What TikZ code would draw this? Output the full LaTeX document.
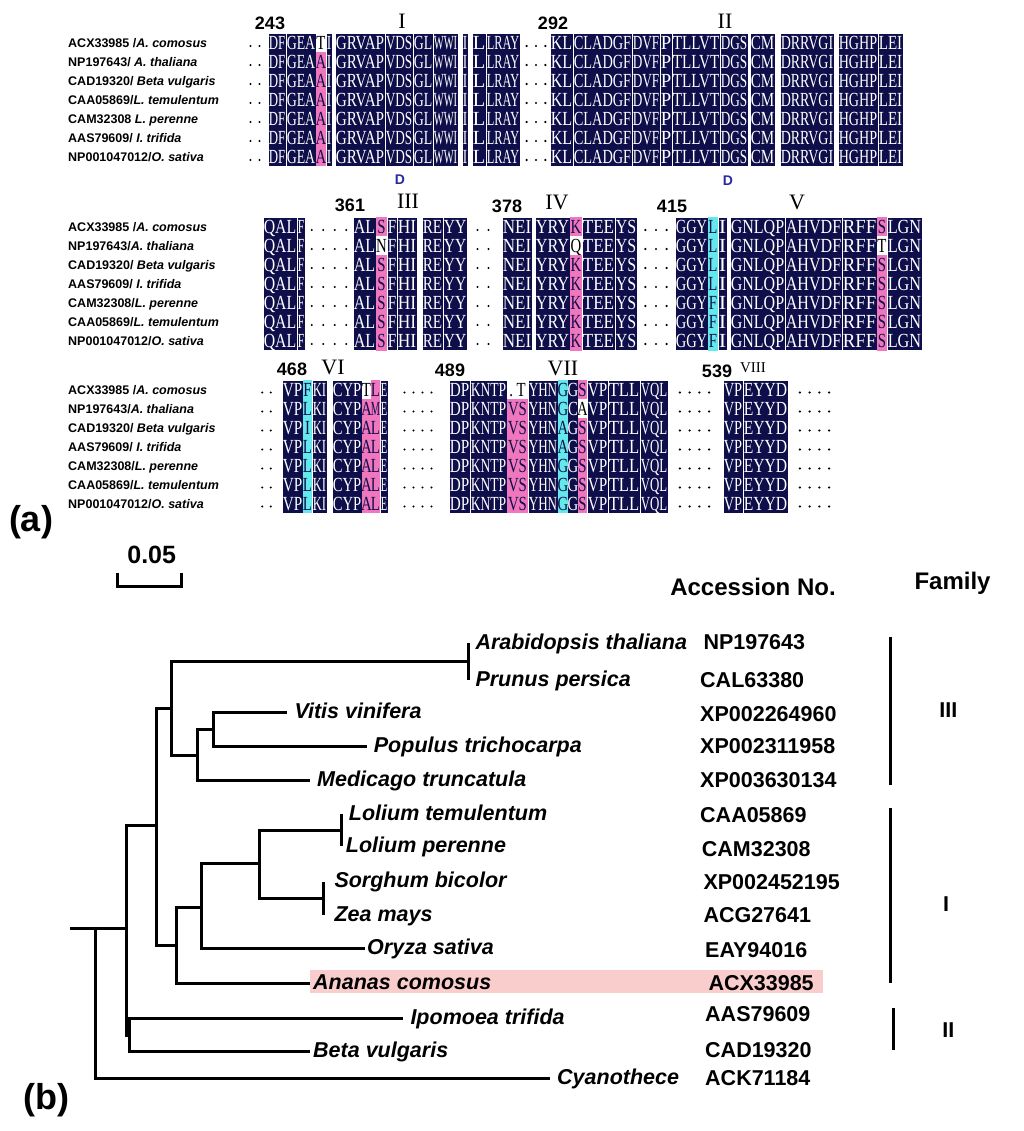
\documentclass[tikz,border=0pt]{standalone}
\usepackage{fontspec}
\setmainfont{Liberation Sans}
\newfontfamily\seqfont{Liberation Serif}
\usepackage{graphicx}

\definecolor{navy}{RGB}{14,14,74}
\definecolor{hpink}{RGB}{240,118,190}
\definecolor{hcyan}{RGB}{100,232,236}
\definecolor{dblue}{RGB}{40,40,160}
\definecolor{anahl}{RGB}{250,205,205}

\tikzset{
  seq/.style={font=\seqfont\fontsize{20}{21}\selectfont, inner sep=0, anchor=base},
  taxon/.style={font=\fontsize{12.5}{14}\selectfont\bfseries, anchor=base west, inner sep=0},
  resnum/.style={font=\fontsize{18}{20}\selectfont\bfseries, inner sep=0},
  motif/.style={font=\seqfont\fontsize{22}{24}\selectfont, inner sep=0},
  leaf/.style={font=\fontsize{21.5}{24}\selectfont\bfseries\itshape, anchor=west,
    inner xsep=7pt, inner ysep=0, text height=12.4pt, text depth=0pt},
  acc/.style={font=\fontsize{21.5}{24}\selectfont\bfseries, anchor=west,
    inner sep=0, text height=15.4pt, text depth=0pt},
  head/.style={font=\fontsize{24}{26}\selectfont\bfseries, inner sep=0},
  branch/.style={line width=3pt},
}

% conserved segment on all seven rows: first row y, x from, x to, residues
\newcommand\conseg[4]{%
  \filldraw[fill=navy, draw=white, line width=0.7pt] ({#2},{#1-9.5}) rectangle ({#3},{#1+123.5});
  \pgfmathsetmacro\segw{#3-#2-1.6}%
  \foreach \rw in {0,...,6}
    \node[seq, text=white] at ({(#2+#3)/2},{#1+\rw*19+6.8}) {\resizebox{\segw pt}{\height}{#4}};
}
% one column, row by row: first row y, x from, x to, list of fill/text/residue
\newcommand\rescol[4]{%
  \foreach \bg/\fg/\res [count=\rw from 0] in {#4} {
    \fill[\bg] ({#2},{#1+\rw*19-9.5}) rectangle ({#3},{#1+\rw*19+9.5});
    \node[seq, text=\fg] at ({(#2+#3)/2},{#1+\rw*19+6.8}) {\scalebox{0.74}[1]{\res}};
  }}
% dotted gap: first row y, x from, x to, number of dots
\newcommand\dotgap[4]{%
  \foreach \rw in {0,...,6}
    \foreach \dt in {1,...,#4}
      \fill ({#2+(\dt-0.5)*(#3-#2)/#4},{#1+\rw*19+3}) circle (1.2pt);
}

\begin{document}
\begin{tikzpicture}[x=1pt, y=-1pt]
\useasboundingbox (0,0) rectangle (1024,1131);

% (a) alignment, block 1
\foreach \t [count=\rw from 0] in {ACX33985 /\textit{A. comosus}, NP197643/ \textit{A. thaliana},
    CAD19320/ \textit{Beta vulgaris}, CAA05869/\textit{L. temulentum}, CAM32308 \textit{L. perenne},
    AAS79609/ \textit{I. trifida}, NP001047012/\textit{O. sativa}}
  \node[taxon] (sa\rw) at (68,{43+\rw*19+4.5}) {\t};
\dotgap{43}{246}{264}{2}
\conseg{43}{268}{286}{DF}
\conseg{43}{286}{316}{GEA}
\rescol{43}{316}{326}{white/black/T, hpink/navy/A, hpink/navy/A, hpink/navy/A, hpink/navy/A, hpink/navy/A, hpink/navy/A}
\conseg{43}{326}{332}{I}
\conseg{43}{335}{385}{GRVAP}
\conseg{43}{385}{413}{VDS}
\conseg{43}{413}{433}{GL}
\conseg{43}{433}{458}{WWI}
\conseg{43}{462}{468}{I}
\conseg{43}{472}{486}{L}
\conseg{43}{486}{520}{LRAY}
\dotgap{43}{522}{550}{3}
\conseg{43}{550}{573}{KL}
\conseg{43}{573}{632}{CLADGF}
\conseg{43}{632}{660}{DVF}
\conseg{43}{660}{672}{P}
\conseg{43}{672}{720}{TLLVT}
\conseg{43}{720}{748}{DGS}
\conseg{43}{750}{775}{CM}
\conseg{43}{780}{834}{DRRVGI}
\conseg{43}{838}{878}{HGHP}
\conseg{43}{878}{903}{LEI}
\node[resnum] (p243) at (270,23) {243};
\node[motif] (m1) at (402,21) {I};
\node[resnum] (p292) at (553,23) {292};
\node[motif] (m2) at (725,21) {II};
\node[font=\fontsize{14}{16}\selectfont\bfseries, text=dblue, inner sep=0] (d1) at (400,180) {D};
\node[font=\fontsize{14}{16}\selectfont\bfseries, text=dblue, inner sep=0] (d2) at (728,181) {D};

% block 2
\foreach \t [count=\rw from 0] in {ACX33985 /\textit{A. comosus}, NP197643/\textit{A. thaliana},
    CAD19320/ \textit{Beta vulgaris}, AAS79609/ \textit{I. trifida}, CAM32308/\textit{L. perenne},
    CAA05869/\textit{L. temulentum}, NP001047012/\textit{O. sativa}}
  \node[taxon] (sb\rw) at (68,{227+\rw*19+4.5}) {\t};
\conseg{227}{263}{297}{QAL}
\conseg{227}{297}{305}{F}
\dotgap{227}{306}{352}{4}
\conseg{227}{353}{376}{AL}
\rescol{227}{376}{387}{hpink/navy/S, white/black/N, hpink/navy/S, hpink/navy/S, hpink/navy/S, hpink/navy/S, hpink/navy/S}
\conseg{227}{387}{397}{F}
\conseg{227}{397}{417}{HI}
\conseg{227}{422}{443}{RE}
\conseg{227}{443}{467}{YY}
\dotgap{227}{472}{494}{2}
\conseg{227}{502}{532}{NEI}
\conseg{227}{535}{570}{YRY}
\rescol{227}{570}{582}{hpink/navy/K, white/black/Q, hpink/navy/K, hpink/navy/K, hpink/navy/K, hpink/navy/K, hpink/navy/K}
\conseg{227}{582}{615}{TEE}
\conseg{227}{615}{637}{YS}
\dotgap{227}{640}{672}{3}
\conseg{227}{675}{708}{GGY}
\rescol{227}{708}{718}{hcyan/navy/L, hcyan/navy/L, hcyan/navy/L, hcyan/navy/L, hcyan/navy/F, hcyan/navy/F, hcyan/navy/F}
\conseg{227}{718}{727}{I}
\conseg{227}{730}{785}{GNLQP}
\conseg{227}{785}{842}{AHVDF}
\conseg{227}{842}{877}{RFF}
\rescol{227}{877}{887}{hpink/navy/S, white/black/T, hpink/navy/S, hpink/navy/S, hpink/navy/S, hpink/navy/S, hpink/navy/S}
\conseg{227}{887}{922}{LGN}
\node[resnum] (p361) at (350,205) {361};
\node[motif] (m3) at (408,201) {III};
\node[resnum] (p378) at (507,206) {378};
\node[motif] (m4) at (557,202) {IV};
\node[resnum] (p415) at (672,206) {415};
\node[motif] (m5) at (797,202) {V};

% block 3
\foreach \t [count=\rw from 0] in {ACX33985 /\textit{A. comosus}, NP197643/\textit{A. thaliana},
    CAD19320/ \textit{Beta vulgaris}, AAS79609/ \textit{I. trifida}, CAM32308/\textit{L. perenne},
    CAA05869/\textit{L. temulentum}, NP001047012/\textit{O. sativa}}
  \node[taxon] (sc\rw) at (68,{389.5+\rw*19+4.5}) {\t};
\dotgap{389.5}{258}{275}{2}
\conseg{389.5}{282}{303}{VP}
\rescol{389.5}{303}{312}{hcyan/navy/F, hcyan/navy/L, hcyan/navy/I, hcyan/navy/L, hcyan/navy/L, hcyan/navy/L, hcyan/navy/L}
\conseg{389.5}{312}{327}{KI}
\conseg{389.5}{332}{362}{CYP}
\rescol{389.5}{362}{371}{white/black/T, hpink/navy/A, hpink/navy/A, hpink/navy/A, hpink/navy/A, hpink/navy/A, hpink/navy/A}
\rescol{389.5}{371}{380}{hpink/navy/L, hpink/navy/{\scalebox{0.7}[1]{M}}, hpink/navy/L, hpink/navy/L, hpink/navy/L, hpink/navy/L, hpink/navy/L}
\conseg{389.5}{380}{388}{E}
\dotgap{389.5}{400}{436}{4}
\conseg{389.5}{449}{470}{DP}
\conseg{389.5}{470}{507}{KNTP}
\rescol{389.5}{507}{528}{white/black/{.\ T}, hpink/navy/VS, hpink/navy/VS, hpink/navy/VS, hpink/navy/VS, hpink/navy/VS, hpink/navy/VS}
\conseg{389.5}{528}{558}{YHN}
\rescol{389.5}{558}{568}{hcyan/navy/G, hcyan/navy/G, hcyan/navy/A, hcyan/navy/A, hcyan/navy/G, hcyan/navy/G, hcyan/navy/G}
\rescol{389.5}{568}{578}{navy/white/G, navy/white/C, navy/white/G, navy/white/G, navy/white/G, navy/white/G, navy/white/G}
\rescol{389.5}{578}{587}{hpink/navy/S, white/black/A, hpink/navy/S, hpink/navy/S, hpink/navy/S, hpink/navy/S, hpink/navy/S}
\conseg{389.5}{587}{608}{VP}
\conseg{389.5}{608}{640}{TLL}
\conseg{389.5}{640}{668}{VQL}
\dotgap{389.5}{675}{714}{4}
\conseg{389.5}{723}{743}{VP}
\conseg{389.5}{743}{788}{EYYD}
\dotgap{389.5}{795}{834}{4}
\node[resnum] (p468) at (292,369) {468};
\node[motif] (m6) at (333,367) {VI};
\node[resnum] (p489) at (450,370) {489};
\node[motif] (m7) at (563,368) {VII};
\node[resnum] (p539) at (717,371) {539};
\node[motif, font=\seqfont\fontsize{15}{16}\selectfont] (m8) at (753,368) {VIII};
\node[font=\fontsize{36}{40}\selectfont\bfseries, inner sep=0] (pa) at (31,522) {(a)};

% (b) tree
\draw[line width=2.6pt] (117.3,573) -- (117.3,586.7) -- (181.7,586.7) -- (181.7,573);
\node[font=\fontsize{25}{26}\selectfont\bfseries, inner sep=0] (sbar) at (151.7,555) {0.05};
\node[head] (hacc) at (753,586.7) {Accession No.};
\node[head] (hfam) at (952.5,583.3) {Family};
\fill[anahl] (310,970) rectangle (823.3,993.3);

\node[leaf] (ara) at (468.3,643) {Arabidopsis thaliana};
\node[leaf] (pru) at (468.3,680) {Prunus persica};
\node[leaf] (vit) at (287.3,712.7) {Vitis vinifera};
\node[leaf] (pop) at (366.7,746.7) {Populus trichocarpa};
\node[leaf] (med) at (310,780) {Medicago truncatula};
\node[leaf] (ltem) at (341.7,814) {Lolium temulentum};
\node[leaf, inner xsep=4pt] (lper) at (341.7,846) {Lolium perenne};
\node[leaf, inner xsep=11pt] (sor) at (323.3,881.7) {Sorghum bicolor};
\node[leaf, inner xsep=11pt] (zea) at (323.3,915) {Zea mays};
\node[leaf, inner xsep=2pt] (ory) at (365,948.3) {Oryza sativa};
\node[leaf, inner xsep=3pt] (ana) at (310,983.3) {Ananas comosus};
\node[leaf] (ipo) at (403.3,1018.3) {Ipomoea trifida};
\node[leaf, inner xsep=3pt] (bet) at (310,1051.7) {Beta vulgaris};
\node[leaf] (cya) at (550,1078.3) {Cyanothece};

\coordinate (r0) at (70,928.3);
\coordinate (r) at (95,928.3);
\coordinate (n1) at (126,928.3);
\coordinate (ib) at (129.3,1035);
\coordinate (n2) at (156.7,825);
\coordinate (n3) at (171.7,708.3);
\coordinate (ap) at (468.3,661.7);
\coordinate (n4) at (197.7,755);
\coordinate (vp) at (213.3,729.3);
\coordinate (n5) at (176,945);
\coordinate (n6) at (201.7,907.3);
\coordinate (n7) at (259.3,863.3);
\coordinate (lol) at (341.7,830);
\coordinate (sz) at (323.3,898.3);

\draw[branch] (r0) -- (r) -- (n1);
\draw[branch] (r) |- (cya.west);
\draw[branch] (n1) |- (n2);
\draw[branch] (n1) |- (ib);
\draw[branch] (ib) |- (ipo.west);
\draw[branch] (ib) |- (bet.west);
\draw[branch] (n2) |- (n3);
\draw[branch] (n2) |- (n5);
\draw[branch] (n3) |- (ap);
\draw[branch] (n3) |- (n4);
\draw[branch] (ap) |- (ara.west);
\draw[branch] (ap) |- (pru.west);
\draw[branch] (n4) |- (vp);
\draw[branch] (n4) |- (med.west);
\draw[branch] (vp) |- (vit.west);
\draw[branch] (vp) |- (pop.west);
\draw[branch] (n5) |- (n6);
\draw[branch] (n5) |- (ana.west);
\draw[branch] (n6) |- (n7);
\draw[branch] (n6) |- (ory.west);
\draw[branch] (n7) |- (lol);
\draw[branch] (n7) |- (sz);
\draw[branch] (lol) |- (ltem.west);
\draw[branch] (lol) |- (lper.west);
\draw[branch] (sz) |- (sor.west);
\draw[branch] (sz) |- (zea.west);

\node[acc] (kNP) at (703.3,641.7) {NP197643};
\node[acc] (kCAL) at (700,680) {CAL63380};
\node[acc] (kXP1) at (700,713.3) {XP002264960};
\node[acc] (kXP2) at (700,746) {XP002311958};
\node[acc] (kXP3) at (700,779.3) {XP003630134};
\node[acc] (kCAA) at (700,815) {CAA05869};
\node[acc] (kCAM) at (701.7,848.3) {CAM32308};
\node[acc] (kXP4) at (703.3,881.7) {XP002452195};
\node[acc] (kACG) at (703.3,915) {ACG27641};
\node[acc] (kEAY) at (705,949.3) {EAY94016};
\node[acc] (kACX) at (708.3,982.3) {ACX33985};
\node[acc] (kAAS) at (705,1013.3) {AAS79609};
\node[acc] (kCAD) at (705,1050) {CAD19320};
\node[acc] (kACK) at (705,1077.3) {ACK71184};

\draw[branch] (890,636.7) -- (890,785);
\draw[branch] (890.7,808.3) -- (890.7,983.3);
\draw[branch] (893.3,1008.3) -- (893.3,1050);
\node[acc, anchor=center] (f3) at (948.3,710) {III};
\node[acc, anchor=center] (f1) at (946,903.3) {I};
\node[acc, anchor=center] (f2) at (948.3,1030) {II};
\node[font=\fontsize{36}{40}\selectfont\bfseries, inner sep=0] (pb) at (46,1100) {(b)};
\end{tikzpicture}
\end{document}
